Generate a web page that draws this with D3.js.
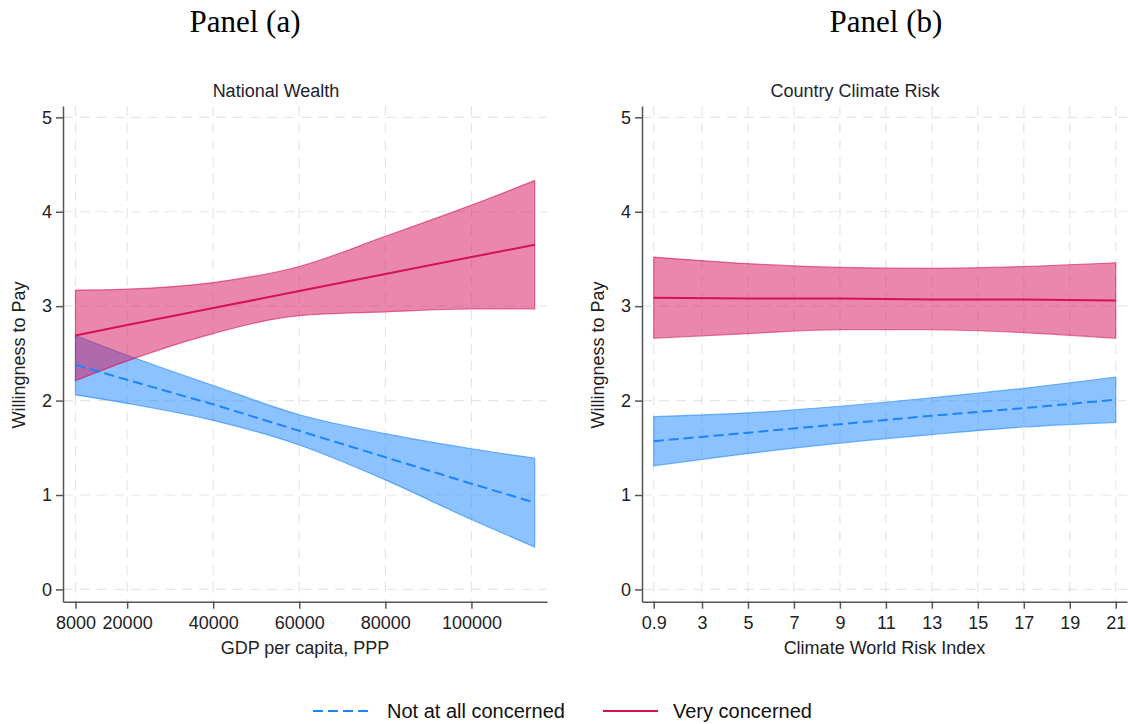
<!DOCTYPE html>
<meta charset="utf-8">
<style>
body { margin: 0; background: #fff; }
svg { font-family: "Liberation Sans", Arial, sans-serif; }

.grid line {
  stroke: #e6e6e6;
  stroke-width: 1.2px;
  stroke-dasharray: 10,7;
}

.axis path, .axis line {
  stroke: #555;
  stroke-width: 1.5px;
}

.axis text {
  font-family: "Liberation Sans", Arial, sans-serif;
  font-size: 18px;
  fill: #222;
}
</style>
<svg width="1128" height="724"></svg>
<script src="https://d3js.org/d3.v7.min.js"></script>
<script>

// panel (a): GDP per capita
var gdpX = [8000, 20000, 40000, 60000, 80000, 100000, 114700];
var gdpTicks = [8000, 20000, 40000, 60000, 80000, 100000];
var gdpNotLine = [2.38, 2.22, 1.96, 1.68, 1.40, 1.12, 0.92];
var gdpNotHi   = [2.69, 2.48, 2.16, 1.85, 1.65, 1.49, 1.39];
var gdpNotLo   = [2.06, 1.97, 1.79, 1.53, 1.16, 0.74, 0.45];
var gdpVeryLine = [2.69, 2.80, 2.98, 3.16, 3.34, 3.52, 3.65];
var gdpVeryHi   = [3.17, 3.18, 3.25, 3.42, 3.74, 4.07, 4.33];
var gdpVeryLo   = [2.21, 2.42, 2.71, 2.90, 2.94, 2.97, 2.97];

// panel (b): climate world risk index
var riskX = [0.9, 5, 9, 13, 17, 21];
var riskTicks = [0.9, 3, 5, 7, 9, 11, 13, 15, 17, 19, 21];
var riskNotLine = [1.57, 1.66, 1.75, 1.84, 1.92, 2.01];
var riskNotHi   = [1.83, 1.87, 1.94, 2.03, 2.13, 2.25];
var riskNotLo   = [1.31, 1.44, 1.55, 1.64, 1.72, 1.77];
var riskVeryLine = [3.09, 3.08, 3.08, 3.07, 3.07, 3.06];
var riskVeryHi   = [3.52, 3.45, 3.41, 3.40, 3.42, 3.46];
var riskVeryLo   = [2.66, 2.71, 2.75, 2.75, 2.72, 2.66];

var yTicks = [0, 1, 2, 3, 4, 5];
var seriesNames = ["Not at all concerned", "Very concerned"];

var blue = "#1a85ff", pink = "#d41159";

var svg = d3.select("svg");

var y = d3.scaleLinear().domain([-0.13, 5.12]).range([601.7, 106]);

var xA = d3.scaleLinear().domain([5100, 117560]).range([63, 547]),
    xB = d3.scaleLinear().domain([0.39, 21.49]).range([642, 1127]);

function panel(x, xs, ticks, fmt, notLine, notLo, notHi, veryLine, veryLo, veryHi, opts) {
  var g = svg.append("g");
  var x0 = x.range()[0], x1 = x.range()[1];

  // grid
  var grid = g.append("g").attr("class", "grid");
  grid.selectAll(".h").data(yTicks).enter().append("line")
      .attr("x1", x0).attr("x2", x1)
      .attr("y1", function(d) { return y(d); })
      .attr("y2", function(d) { return y(d); });
  grid.selectAll(".v").data(ticks).enter().append("line")
      .attr("x1", function(d) { return x(d); })
      .attr("x2", function(d) { return x(d); })
      .attr("y1", y.range()[1]).attr("y2", y.range()[0]);

  var idx = d3.range(xs.length);

  function band(lo, hi, col) {
    g.append("path")
        .datum(idx)
        .attr("fill", col)
        .attr("fill-opacity", 0.5)
        .attr("stroke", col)
        .attr("stroke-opacity", 0.6)
        .attr("stroke-width", 1.2)
        .attr("d", d3.area()
          .curve(d3.curveMonotoneX)
          .x(function(i) { return x(xs[i]); })
          .y0(function(i) { return y(lo[i]); })
          .y1(function(i) { return y(hi[i]); }));
  }
  function line(vals, col, dash) {
    g.append("path")
        .datum(idx)
        .attr("fill", "none")
        .attr("stroke", col)
        .attr("stroke-width", 2)
        .attr("stroke-dasharray", dash)
        .attr("d", d3.line()
          .x(function(i) { return x(xs[i]); })
          .y(function(i) { return y(vals[i]); }));
  }

  band(notLo, notHi, blue);
  band(veryLo, veryHi, pink);
  line(notLine, blue, "10,5");
  line(veryLine, pink, null);

  // axes
  g.append("g")
      .attr("class", "axis")
      .attr("transform", "translate(" + x0 + ",0)")
      .call(d3.axisLeft(y).tickValues(yTicks).tickFormat(d3.format("d"))
        .tickSize(7).tickSizeOuter(0).tickPadding(4));

  g.append("g")
      .attr("class", "axis")
      .attr("transform", "translate(0," + y.range()[0] + ")")
      .call(d3.axisBottom(x).tickValues(ticks).tickFormat(fmt)
        .tickSize(7).tickSizeOuter(0).tickPadding(8));

  // titles
  g.append("text")
      .attr("x", opts.panelX).attr("y", 32)
      .attr("text-anchor", "middle")
      .style("font-family", "'Liberation Serif', 'Times New Roman', serif")
      .style("font-size", "31px")
      .attr("fill", "#000")
      .text(opts.panel);

  g.append("text")
      .attr("x", opts.titleX).attr("y", 97)
      .attr("text-anchor", "middle")
      .style("font-size", "18px")
      .attr("fill", "#1c2330")
      .text(opts.title);

  g.append("text")
      .attr("x", (x0 + x1) / 2).attr("y", 654)
      .attr("text-anchor", "middle")
      .style("font-size", "18px")
      .attr("fill", "#222")
      .text(opts.xTitle);

  g.append("text")
      .attr("transform", "translate(" + (x0 - 38) + ",355) rotate(-90)")
      .attr("text-anchor", "middle")
      .style("font-size", "18px")
      .attr("fill", "#222")
      .text("Willingness to Pay");
}

panel(xA, gdpX, gdpTicks, d3.format("d"),
      gdpNotLine, gdpNotLo, gdpNotHi, gdpVeryLine, gdpVeryLo, gdpVeryHi,
      {panel: "Panel (a)", panelX: 245, title: "National Wealth", titleX: 276, xTitle: "GDP per capita, PPP"});

panel(xB, riskX, riskTicks, function(d) { return String(d); },
      riskNotLine, riskNotLo, riskNotHi, riskVeryLine, riskVeryLo, riskVeryHi,
      {panel: "Panel (b)", panelX: 886, title: "Country Climate Risk", titleX: 855, xTitle: "Climate World Risk Index"});

// legend
var legend = svg.append("g");
var legItems = [
  {name: seriesNames[0], col: blue, dash: "10,5", lx: 313, tx: 387},
  {name: seriesNames[1], col: pink, dash: null, lx: 603, tx: 673}
];
legItems.forEach(function(d) {
  legend.append("line")
      .attr("x1", d.lx).attr("x2", d.lx + 55)
      .attr("y1", 711).attr("y2", 711)
      .attr("stroke", d.col)
      .attr("stroke-width", 2)
      .attr("stroke-dasharray", d.dash);
  legend.append("text")
      .attr("x", d.tx).attr("y", 718)
      .style("font-size", "20px")
      .attr("fill", "#111")
      .text(d.name);
});

</script>
